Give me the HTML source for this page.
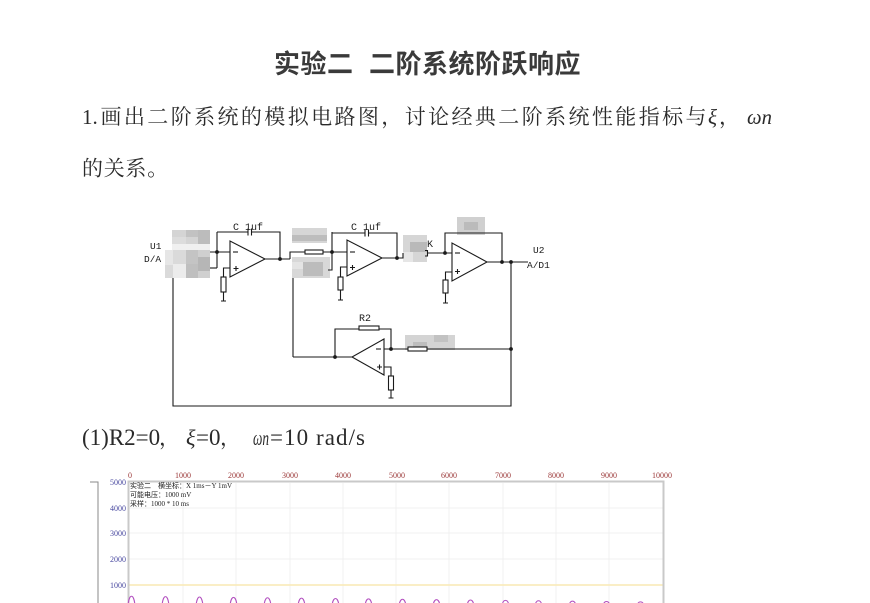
<!DOCTYPE html>
<html>
<head>
<meta charset="utf-8">
<style>
  html,body{margin:0;padding:0;background:#fff;}
  body{width:870px;height:603px;overflow:hidden;position:relative;}
  svg{display:block;}
  .ser{font-family:"Liberation Serif",serif;}
  .mono{font-family:"Liberation Mono",monospace;}
</style>
</head>
<body>
<svg width="870" height="603" viewBox="0 0 870 603" xmlns="http://www.w3.org/2000/svg">
  <rect x="0" y="0" width="870" height="603" fill="#fff"/>

  <!-- Title -->
  <text y="73" font-family="'Noto Sans CJK SC', sans-serif" font-weight="bold" font-size="26" fill="#3a3a3a"
        x="274 300.5 327">实验二</text>
  <text y="73" font-family="'Noto Sans CJK SC', sans-serif" font-weight="bold" font-size="26" fill="#3a3a3a"
        x="369 395.5 422 448.5 475 501.5 528 554.5">二阶系统阶跃响应</text>

  <!-- Line 1 -->
  <text x="82" y="124" class="ser" font-size="21" fill="#2a2a2a">1.</text>
  <text y="124" font-family="'Noto Serif CJK SC', serif" font-size="21" fill="#2a2a2a"
        x="100.5 123.9 147.3 170.7 194.1 217.5 240.9 264.3 287.7 311.1 334.5 357.9 381.3 404.7 428.1 451.5 474.9 498.3 521.7 545.1 568.5 591.9 615.3 638.7 662.1 685.5">画出二阶系统的模拟电路图，讨论经典二阶系统性能指标与</text>
  <text x="708" y="124" class="ser" font-style="italic" font-size="21" fill="#2a2a2a">ξ</text>
  <text x="719" y="124" font-family="'Noto Serif CJK SC', serif" font-size="21" fill="#2a2a2a">，</text>
  <text x="747" y="124" class="ser" font-style="italic" font-size="21" fill="#2a2a2a" textLength="25" lengthAdjust="spacingAndGlyphs">ωn</text>

  <!-- Line 2 -->
  <text y="175.5" font-family="'Noto Serif CJK SC', serif" font-size="21" fill="#2a2a2a"
        x="82 103.7 125.4 147.1">的关系。</text>

  <!-- Circuit -->
  <g stroke="#1a1a1a" stroke-width="1.1" fill="none">
    <!-- blurred block 1 -->
    <g stroke="none">
      <rect x="172" y="230" width="38" height="14" fill="#d4d4d4"/>
      <rect x="186" y="230" width="12" height="7" fill="#c2c2c2"/>
      <rect x="198" y="230" width="12" height="14" fill="#bcbcbc"/>
      <rect x="172" y="237" width="14" height="7" fill="#dcdcdc"/>
      <rect x="172" y="244" width="38" height="6" fill="#f0f0f0"/>
      <rect x="165" y="250" width="45" height="28" fill="#dadada"/>
      <rect x="165" y="250" width="8" height="15" fill="#e6e6e6"/>
      <rect x="186" y="250" width="12" height="14" fill="#c4c4c4"/>
      <rect x="198" y="250" width="12" height="7" fill="#cfcfcf"/>
      <rect x="198" y="257" width="12" height="14" fill="#b6b6b6"/>
      <rect x="173" y="264" width="13" height="14" fill="#ececec"/>
      <rect x="186" y="264" width="12" height="14" fill="#bfbfbf"/>
      <rect x="198" y="271" width="12" height="7" fill="#d0d0d0"/>
    </g>
    <!-- blurred block 2 -->
    <g stroke="none">
      <rect x="292" y="228" width="35" height="15" fill="#d6d6d6"/>
      <rect x="292" y="235" width="35" height="6" fill="#bdbdbd"/>
      <rect x="292" y="257" width="38" height="21" fill="#d8d8d8"/>
      <rect x="303" y="262" width="20" height="14" fill="#bcbcbc"/>
      <rect x="292" y="262" width="11" height="7" fill="#e4e4e4"/>
      <!-- block 3 -->
      <rect x="403" y="235" width="24" height="27" fill="#d6d6d6"/>
      <rect x="410" y="242" width="17" height="10" fill="#b9b9b9"/>
      <rect x="403" y="252" width="10" height="10" fill="#e6e6e6"/>
      <!-- block 4 -->
      <rect x="457" y="217" width="28" height="18" fill="#d0d0d0"/>
      <rect x="464" y="222" width="14" height="8" fill="#bbbbbb"/>
      <!-- block 5 -->
      <rect x="405" y="335" width="50" height="15" fill="#d4d4d4"/>
      <rect x="413" y="342" width="14" height="7" fill="#bdbdbd"/>
      <rect x="434" y="335" width="14" height="7" fill="#c2c2c2"/>
    </g>

    <!-- Stage 1 -->
    <line x1="210" y1="252" x2="230" y2="252"/>
    <line x1="210" y1="268" x2="217" y2="268"/>
    <line x1="217" y1="232" x2="217" y2="268"/>
    <path d="M217,232 H248 M251.5,232 H280 V259"/>
    <line x1="248" y1="228.5" x2="248" y2="235.5"/>
    <line x1="251.5" y1="228.5" x2="251.5" y2="235.5"/>
    <polygon points="230,241 230,277 265,259"/>
    <line x1="233" y1="252" x2="238" y2="252"/>
    <path d="M233.5,268.5 H238.5 M236,266 V271"/>
    <path d="M230,268 H223.5 V277 M223.5,292 V301 M221,301 H226"/>
    <rect x="221" y="277" width="5" height="15" fill="#fff"/>
    <line x1="265" y1="259" x2="290" y2="259"/>

    <!-- Stage 2 -->
    <path d="M290,259 V252 H347"/>
    <rect x="305" y="250" width="18" height="4" fill="#fff"/>
    <path d="M332,232 V270 H328"/>
    <path d="M332,233 H365 M368.5,233 H397 V258"/>
    <line x1="365" y1="229.5" x2="365" y2="236.5"/>
    <line x1="368.5" y1="229.5" x2="368.5" y2="236.5"/>
    <polygon points="347,240 347,276 382,258"/>
    <line x1="350" y1="252" x2="355" y2="252"/>
    <path d="M350,267.5 H355 M352.5,265 V270"/>
    <path d="M347,267 H340.5 V277 M340.5,290 V300 M338,300 H343"/>
    <rect x="338" y="277" width="5" height="13" fill="#fff"/>
    <path d="M382,258 H403 V253"/>
    <path d="M425,250.5 H427.5 V256 H425"/>
    <line x1="427.5" y1="253" x2="452" y2="253"/>

    <!-- Stage 3 -->
    <path d="M445,253 V233 H502 V262"/>
    <polygon points="452,243 452,281 487,262"/>
    <line x1="455" y1="253" x2="460" y2="253"/>
    <path d="M455,271.5 H460 M457.5,269 V274"/>
    <path d="M452,272 H445.5 V280 M445.5,293 V303 M443,303 H448"/>
    <rect x="443" y="280" width="5" height="13" fill="#fff"/>
    <line x1="487" y1="262" x2="528" y2="262"/>

    <!-- loop -->
    <path d="M173,278 V406 H511 V262"/>
    <line x1="293" y1="278" x2="293" y2="357"/>
    <line x1="511" y1="349" x2="384" y2="349"/>
    <rect x="408" y="347" width="19" height="4" fill="#fff"/>
    <path d="M391,349 V329 H335 V357"/>
    <rect x="359" y="326" width="20" height="4" fill="#fff"/>
    <polygon points="384,339 384,375 352,357"/>
    <line x1="376" y1="349" x2="381" y2="349"/>
    <path d="M377,367 H382 M379.5,364.5 V369.5"/>
    <path d="M384,367 H391 V376 M391,390 V398 M388.5,398 H393.5"/>
    <rect x="388.5" y="376" width="5" height="14" fill="#fff"/>
    <line x1="352" y1="357" x2="293" y2="357"/>
  </g>
  <!-- junction dots -->
  <g fill="#1a1a1a">
    <circle cx="217" cy="252" r="1.9"/>
    <circle cx="280" cy="259" r="1.9"/>
    <circle cx="332" cy="252" r="1.9"/>
    <circle cx="397" cy="258" r="1.9"/>
    <circle cx="445" cy="253" r="1.9"/>
    <circle cx="502" cy="262" r="1.9"/>
    <circle cx="511" cy="262" r="1.9"/>
    <circle cx="511" cy="349" r="1.9"/>
    <circle cx="391" cy="349" r="1.9"/>
    <circle cx="335" cy="357" r="1.9"/>
  </g>
  <!-- circuit labels -->
  <g class="mono" font-size="10" fill="#1a1a1a">
    <text x="233" y="230">C 1uf</text>
    <text x="351" y="230">C 1uf</text>
    <text x="427" y="247">K</text>
    <text x="359" y="321">R2</text>
    <text x="533" y="253" font-size="9.5">U2</text>
    <text x="527" y="268" font-size="9.5">A/D1</text>
    <text x="150" y="249" font-size="9.5">U1</text>
    <text x="144" y="262" font-size="9.5">D/A</text>
  </g>

  <!-- Line (1) -->
  <text x="82" y="445" class="ser" font-size="23" fill="#2a2a2a">(1)R2=0</text>
  <text x="159" y="445" font-family="'Noto Serif CJK SC', serif" font-size="21" fill="#2a2a2a">，</text>
  <text x="186" y="445" class="ser" font-style="italic" font-size="22" fill="#2a2a2a">ξ</text>
  <text x="196" y="445" class="ser" font-size="23" fill="#2a2a2a">=0</text>
  <text x="220" y="445" font-family="'Noto Serif CJK SC', serif" font-size="21" fill="#2a2a2a">，</text>
  <text x="253" y="445" class="ser" font-style="italic" font-size="21" fill="#2a2a2a" textLength="16" lengthAdjust="spacingAndGlyphs">ωn</text>
  <text x="270" y="445" class="ser" font-size="23" fill="#2a2a2a" textLength="95" lengthAdjust="spacing">=10 rad/s</text>

  <!-- Chart -->
  <g stroke="#f0f0f0" stroke-width="1">
    <line x1="183" y1="483" x2="183" y2="603"/>
    <line x1="236" y1="483" x2="236" y2="603"/>
    <line x1="290" y1="483" x2="290" y2="603"/>
    <line x1="343" y1="483" x2="343" y2="603"/>
    <line x1="396" y1="483" x2="396" y2="603"/>
    <line x1="449" y1="483" x2="449" y2="603"/>
    <line x1="503" y1="483" x2="503" y2="603"/>
    <line x1="556" y1="483" x2="556" y2="603"/>
    <line x1="609" y1="483" x2="609" y2="603"/>
    <line x1="129" y1="508" x2="663" y2="508"/>
    <line x1="129" y1="533" x2="663" y2="533"/>
    <line x1="129" y1="559" x2="663" y2="559"/>
  </g>
  <line x1="129" y1="585" x2="663" y2="585" stroke="#f9e9b4" stroke-width="1.6"/>
  <rect x="128.5" y="481.5" width="535" height="130" fill="none" stroke="#c9c9c9" stroke-width="2"/>
  <path d="M90,482 H98 V603" fill="none" stroke="#8a8a8a" stroke-width="1"/>

  <g class="ser" font-size="8" fill="#9c3a3a" text-anchor="middle">
    <text x="130" y="478">0</text>
    <text x="183" y="478">1000</text>
    <text x="236" y="478">2000</text>
    <text x="290" y="478">3000</text>
    <text x="343" y="478">4000</text>
    <text x="397" y="478">5000</text>
    <text x="449" y="478">6000</text>
    <text x="503" y="478">7000</text>
    <text x="556" y="478">8000</text>
    <text x="609" y="478">9000</text>
    <text x="662" y="478">10000</text>
  </g>
  <g class="ser" font-size="8" fill="#4a4aa0" text-anchor="end">
    <text x="126" y="485">5000</text>
    <text x="126" y="511">4000</text>
    <text x="126" y="536">3000</text>
    <text x="126" y="562">2000</text>
    <text x="126" y="588">1000</text>
  </g>
  <g font-family="'Liberation Serif','Noto Sans CJK SC',sans-serif" font-size="7" fill="#222">
    <text x="130" y="488">实验二　横坐标：X 1ms－Y 1mV</text>
    <text x="130" y="497">可能电压：1000 mV</text>
    <text x="130" y="506">采样：1000 * 10 ms</text>
  </g>

  <!-- purple peaks -->
  <g fill="none" stroke="#b24fbf" stroke-width="1.1">
    <path d="M128,606 C129,593 134,593 135,606"/>
    <path d="M162,606 C163,593.5 168,593.5 169,606"/>
    <path d="M196,606 C197,594 202,594 203,606"/>
    <path d="M230,606 C231,594.5 236,594.5 237,606"/>
    <path d="M264,606 C265,595 270,595 271,606"/>
    <path d="M298,606 C299,595.5 304,595.5 305,606"/>
    <path d="M332,606 C333,596 338,596 339,606"/>
    <path d="M365,606 C366,596.5 371,596.5 372,606"/>
    <path d="M399,606 C400,597 405,597 406,606"/>
    <path d="M433,606 C434,597.5 439,597.5 440,606"/>
    <path d="M467,606 C468,598 473,598 474,606"/>
    <path d="M502,606 C503,598.5 508,598.5 509,606"/>
    <path d="M535,606 C536,599 541,599 542,606"/>
    <path d="M569,606 C570,599.5 575,599.5 576,606"/>
    <path d="M603,606 C604,600 609,600 610,606"/>
    <path d="M637,606 C638,600.5 643,600.5 644,606"/>
  </g>
</svg>
</body>
</html>
